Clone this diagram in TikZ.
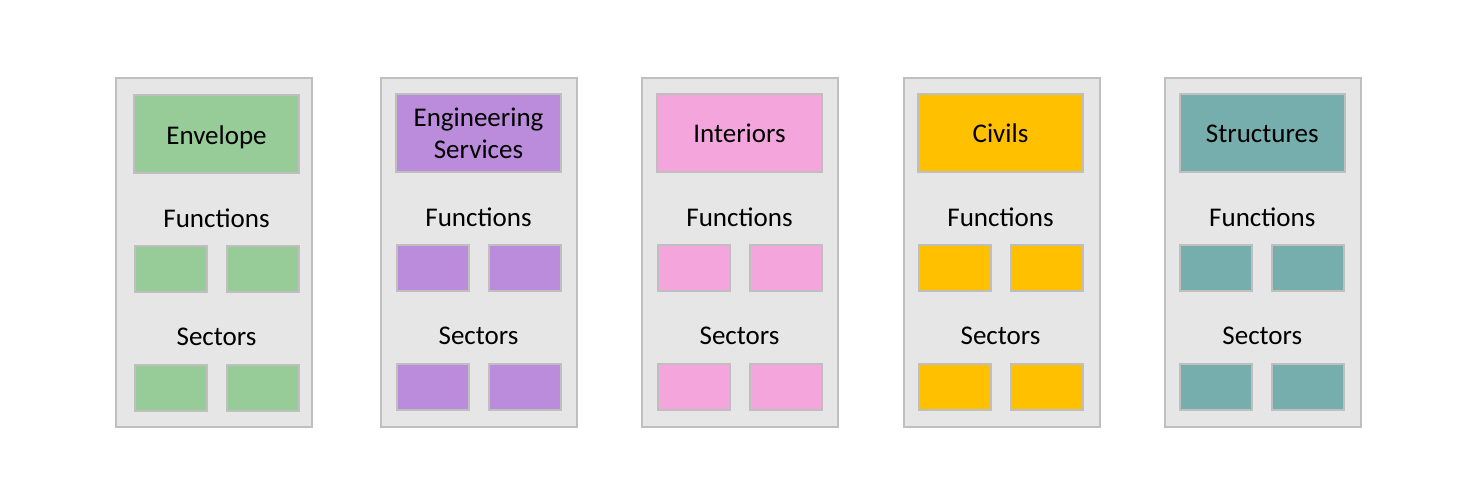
\documentclass[tikz,border=0pt]{standalone}
\usepackage{fontspec}
\setmainfont{Carlito}
\definecolor{panelfill}{HTML}{E7E6E6}
\definecolor{panelline}{HTML}{BFBFBF}
\definecolor{cgreen}{HTML}{97CB97}
\definecolor{cpurple}{HTML}{BB8CDC}
\definecolor{cpink}{HTML}{F4A6DC}
\definecolor{cgold}{HTML}{FFC000}
\definecolor{cteal}{HTML}{76AEAD}
\begin{document}
\begin{tikzpicture}[x=1pt,y=-1pt,
  panel/.style={draw=panelline,fill=panelfill,line width=2pt,minimum width=196pt,minimum height=349pt,inner sep=0pt},
  titlebox/.style={draw=panelline,line width=2pt,minimum width=165pt,minimum height=78pt,inner sep=0pt},
  titletext/.style={align=center,inner sep=0pt,font=\fontsize{27}{32}\selectfont},
  smallbox/.style={draw=panelline,line width=2pt,minimum width=72pt,minimum height=46pt,inner sep=0pt},
  lbl/.style={font=\fontsize{27}{32}\selectfont,inner sep=0pt,anchor=base}]
\useasboundingbox (0,0) rectangle (1471,501);
\foreach \i/\x/\cx/\dy/\c in {1/214/216.5/1/cgreen,2/479/478.5/0/cpurple,3/740/739.5/0/cpink,4/1001.5/1000.5/0/cgold,5/1263/1262.3/0/cteal}{
  \node[panel] (p\i) at (\x,252.5) {};
  \node[titlebox,fill=\c] (t\i) at (\cx,133+\dy) {};
  \node[lbl] (f\i) at (\cx,226+\dy) {Functions};
  \node[smallbox,fill=\c] (fa\i) at (\cx-46,268+\dy) {};
  \node[smallbox,fill=\c] (fb\i) at (\cx+46,268+\dy) {};
  \node[lbl] (s\i) at (\cx,344.7+\dy) {Sectors};
  \node[smallbox,fill=\c] (sa\i) at (\cx-46,387+\dy) {};
  \node[smallbox,fill=\c] (sb\i) at (\cx+46,387+\dy) {};
}
\node[lbl] (e1) at ([yshift=-10pt]t1.center) {Envelope};
\node[titletext] (e2) at (t2.center) {Engineering\\Services};
\node[lbl] (e3) at ([yshift=-9.5pt]t3.center) {Interiors};
\node[lbl] (e4) at ([yshift=-9.5pt]t4.center) {Civils};
\node[lbl] (e5) at ([yshift=-9.5pt]t5.center) {Structures};
\end{tikzpicture}
\end{document}
